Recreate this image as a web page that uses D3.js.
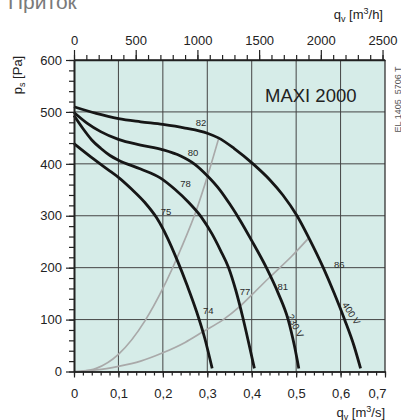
<!DOCTYPE html>
<html><head><meta charset="utf-8">
<script src="https://cdn.jsdelivr.net/npm/d3@7"></script>
<style>
body{margin:0;background:#fff;}
svg{display:block;font-family:"Liberation Sans",Arial,Helvetica,sans-serif;}
</style></head><body>
<svg id="c" width="401" height="420"></svg>
<script>
// ---- data ----
const qTicks = [0, 0.1, 0.2, 0.3, 0.4, 0.5, 0.6, 0.7];
const qTickLabels = ["0", "0,1", "0,2", "0,3", "0,4", "0,5", "0,6", "0,7"];
const hTicks = [0, 500, 1000, 1500, 2000, 2500];
const hTickLabels = ["0", "500", "1000", "1500", "2000", "2500"];
const pTicks = [0, 100, 200, 300, 400, 500, 600];

// fan curves [q m3/s, p Pa]
const curve400V = [[0,510],[0.05,497],[0.1,487],[0.15,481],[0.2,476],[0.25,469],[0.3,459],[0.325,450],[0.36,430],[0.403,400],[0.441,369],[0.47,340],[0.502,300],[0.53,255],[0.561,200],[0.585,152],[0.609,100],[0.63,50],[0.645,6]];
const curve230V = [[0,499],[0.03,478],[0.06,462],[0.1,447],[0.15,436],[0.2,427],[0.24,415],[0.272,399],[0.3,377],[0.329,349],[0.351,322],[0.374,291],[0.4,252],[0.433,200],[0.46,150],[0.482,100],[0.496,50],[0.506,6]];
const curveMid = [[0,493],[0.02,468],[0.04,446],[0.06,430],[0.081,416],[0.1,407],[0.15,390],[0.194,373],[0.227,351],[0.26,324],[0.287,297],[0.31,266],[0.33,233],[0.348,200],[0.364,157],[0.38,104],[0.394,52],[0.406,6]];
const curveLow = [[0,439],[0.04,412],[0.081,386],[0.1,374],[0.13,351],[0.16,325],[0.186,296],[0.21,258],[0.232,215],[0.255,165],[0.276,115],[0.294,65],[0.311,6]];
const fanCurves = [curve400V, curve230V, curveMid, curveLow];

// system curves
const systemSteep = [[0.015,0],[0.05,6],[0.1,33],[0.16,98],[0.2,160],[0.24,235],[0.276,312],[0.3,375],[0.326,450]];
const systemFlat = [[0,0],[0.05,3],[0.1,10],[0.15,20],[0.2,36],[0.25,56],[0.291,77],[0.336,100],[0.374,126],[0.403,150],[0.441,182],[0.49,222],[0.527,256]];
const systemCurves = [systemSteep, systemFlat];

// curve labels [text, q, p]
const levelLabels = [["82",0.286,480],["80",0.268,422],["78",0.251,362],["75",0.207,309],
                     ["74",0.302,117],["77",0.385,154],["81",0.470,164],["86",0.597,206]];
const voltLabels = [["230 V",0.499,88,63],["400 V",0.6245,112,57]];

// ---- chart ----
const svg = d3.select("#c");
const x = d3.scaleLinear().domain([0, 0.7]).range([74, 385]);
const xh = d3.scaleLinear().domain([0, 0.7 * 3600]).range([74, 385]);
const y = d3.scaleLinear().domain([0, 600]).range([371.5, 60]);

svg.append("rect").attr("x", x(0)).attr("y", y(600))
  .attr("width", x(0.7) - x(0)).attr("height", y(0) - y(600)).attr("fill", "#d6ece8");

// grid
svg.append("g").selectAll("line").data(qTicks.slice(1, -1)).join("line")
  .attr("x1", d => x(d)).attr("x2", d => x(d)).attr("y1", y(0)).attr("y2", y(600))
  .attr("stroke", "#444").attr("stroke-width", 1);
svg.append("g").selectAll("line").data(pTicks.slice(1, -1)).join("line")
  .attr("y1", d => y(d)).attr("y2", d => y(d)).attr("x1", x(0)).attr("x2", x(0.7))
  .attr("stroke", "#444").attr("stroke-width", 1);
// right border
svg.append("line").attr("x1", x(0.7)).attr("x2", x(0.7)).attr("y1", y(0)).attr("y2", y(600))
  .attr("stroke", "#333").attr("stroke-width", 1.3);

const line = d3.line().x(d => x(d[0])).y(d => y(d[1])).curve(d3.curveMonotoneX);

svg.append("g").selectAll("path").data(systemCurves).join("path")
  .attr("d", line).attr("fill", "none").attr("stroke", "#a9a9a9").attr("stroke-width", 1.7);
svg.append("g").selectAll("path").data(fanCurves).join("path")
  .attr("d", line).attr("fill", "none").attr("stroke", "#161616").attr("stroke-width", 2.8);

// axes
function styleAxis(g) {
  g.selectAll(".domain").attr("stroke", "#222").attr("stroke-width", 1.6);
  g.selectAll(".tick line").attr("stroke", "#222").attr("stroke-width", 1.2);
  g.selectAll("text").attr("fill", "#222").attr("font-size", 13)
    .attr("font-family", "Liberation Sans, Arial, sans-serif");
}
// bottom
svg.append("g").attr("transform", `translate(0,${y(0)})`)
  .call(d3.axisBottom(x).tickValues(d3.range(0, 0.7001, 0.02)).tickSize(4).tickFormat("").tickSizeOuter(0))
  .call(styleAxis);
const gb = svg.append("g").attr("transform", `translate(0,${y(0)})`)
  .call(d3.axisBottom(x).tickValues(qTicks).tickSize(6).tickSizeOuter(0).tickFormat((d, i) => qTickLabels[i]))
  .call(styleAxis);
gb.selectAll("text").attr("y", 26.5).attr("dy", null);
gb.selectAll(".tick").filter((d, i) => i === qTicks.length - 1).select("text")
  .attr("text-anchor", "end").attr("dx", 1);

// left
svg.append("g").attr("transform", `translate(${x(0)},0)`)
  .call(d3.axisLeft(y).tickValues(d3.range(0, 601, 20)).tickSize(5).tickFormat("").tickSizeOuter(0))
  .call(styleAxis);
svg.append("g").attr("transform", `translate(${x(0)},0)`)
  .call(d3.axisLeft(y).tickValues(pTicks).tickSize(8).tickPadding(4).tickSizeOuter(0))
  .call(styleAxis);

// top
svg.append("g").attr("transform", `translate(0,${y(600)})`)
  .call(d3.axisTop(xh).tickValues(d3.range(0, 2501, 100)).tickSize(5).tickFormat("").tickSizeOuter(0))
  .call(styleAxis);
const gt = svg.append("g").attr("transform", `translate(0,${y(600)})`)
  .call(d3.axisTop(xh).tickValues(hTicks).tickSize(10).tickPadding(5).tickSizeOuter(0)
    .tickFormat((d, i) => hTickLabels[i]))
  .call(styleAxis);
gt.selectAll(".domain").attr("d", `M${x(0)},0H${x(0.7)}`);

// curve labels
svg.append("g").selectAll("text").data(levelLabels).join("text")
  .attr("x", d => x(d[1])).attr("y", d => y(d[2]))
  .attr("text-anchor", "middle").attr("dominant-baseline", "central")
  .attr("font-size", 9.5).attr("fill", "#2a2a2a").text(d => d[0]);
svg.append("g").selectAll("text").data(voltLabels).join("text")
  .attr("transform", d => `translate(${x(d[1])},${y(d[2])}) rotate(${d[3]})`)
  .attr("text-anchor", "middle").attr("dominant-baseline", "central")
  .attr("font-size", 9.5).attr("fill", "#2a2a2a").text(d => d[0]);

// titles
svg.append("text").attr("x", 8).attr("y", 8.5).attr("font-size", 21).attr("fill", "#7a7a7a").text("Приток");

const tTop = svg.append("text").attr("x", 383).attr("y", 19).attr("text-anchor", "end")
  .attr("font-size", 13).attr("fill", "#222");
tTop.append("tspan").text("q");
tTop.append("tspan").attr("font-size", 9).attr("dy", 3).text("v");
tTop.append("tspan").attr("dy", -3).text(" [m");
tTop.append("tspan").attr("font-size", 9).attr("dy", -5).text("3");
tTop.append("tspan").attr("dy", 5).text("/h]");

const tBot = svg.append("text").attr("x", 385).attr("y", 417).attr("text-anchor", "end")
  .attr("font-size", 13).attr("fill", "#222");
tBot.append("tspan").text("q");
tBot.append("tspan").attr("font-size", 9).attr("dy", 3).text("v");
tBot.append("tspan").attr("dy", -3).text(" [m");
tBot.append("tspan").attr("font-size", 9).attr("dy", -5).text("3");
tBot.append("tspan").attr("dy", 5).text("/s]");

const tY = svg.append("text").attr("transform", "translate(21.5,75) rotate(-90)")
  .attr("text-anchor", "middle").attr("font-size", 13).attr("fill", "#222");
tY.append("tspan").text("p");
tY.append("tspan").attr("font-size", 9).attr("dy", 3).text("s");
tY.append("tspan").attr("dy", -3).text(" [Pa]");

svg.append("text").attr("x", 265).attr("y", 102).attr("font-size", 18.5).attr("fill", "#222").text("MAXI 2000");

svg.append("text").attr("transform", "translate(401,99.5) rotate(-90)")
  .attr("text-anchor", "middle").attr("font-size", 9).attr("fill", "#555").text("EL 1405_5706 T");
</script>
</body></html>
